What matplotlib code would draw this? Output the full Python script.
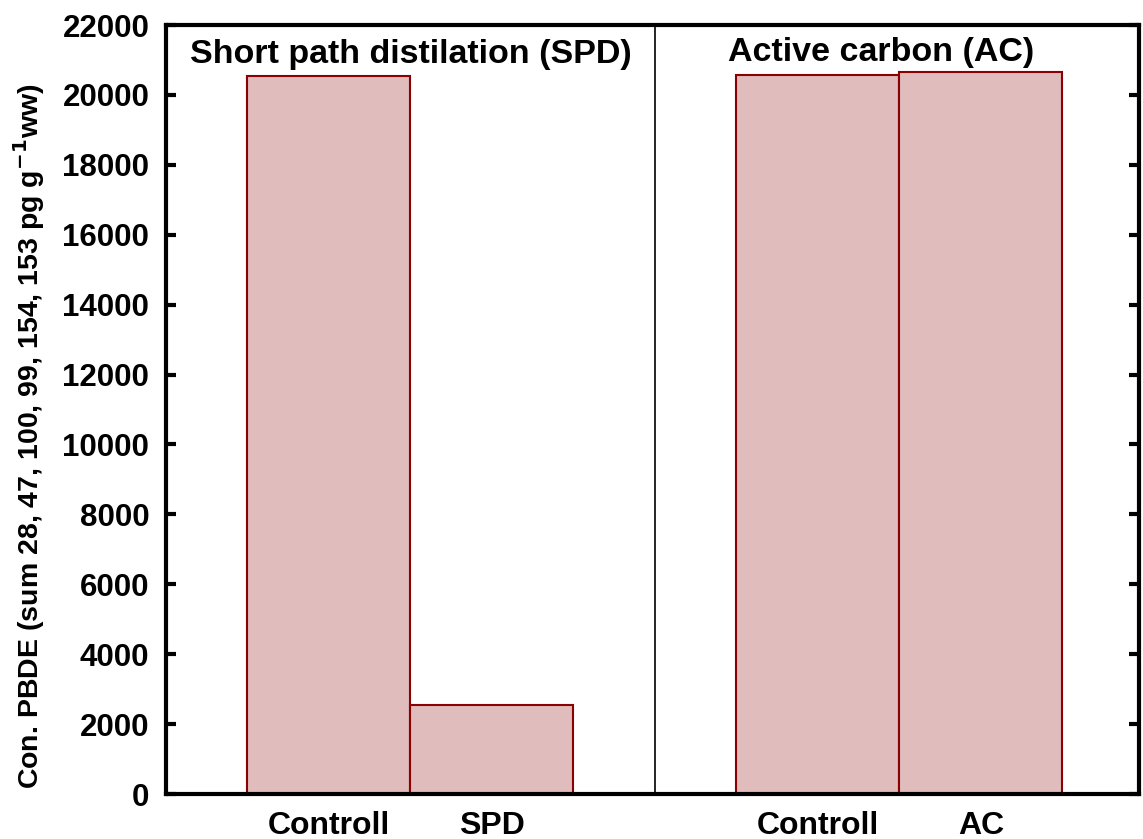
import matplotlib
matplotlib.use("Agg")
import matplotlib.pyplot as plt

plt.rcParams['font.family'] = ['Liberation Sans', 'DejaVu Sans']
plt.rcParams['font.weight'] = 'bold'
plt.rcParams['mathtext.default'] = 'bf'

# data
categories = ['Controll', 'SPD', 'Controll', 'AC']
positions = [1, 2, 4, 5]
values = [20550, 2550, 20560, 20660]
group_titles = ['Short path distilation (SPD)', 'Active carbon (AC)']
yticks = list(range(0, 22001, 2000))

fig = plt.figure(figsize=(11.43, 8.39), dpi=100)
ax = fig.add_axes([166 / 1143, 1 - 794 / 839, 973 / 1143, 769 / 839])

ax.bar(positions, values, width=1.0, color='#e0bcbc', edgecolor='#8b0000',
       linewidth=1.5, zorder=2)

ax.axvline(3, color='black', linewidth=1.2, zorder=3)

ax.set_xlim(0, 5.97)
ax.set_ylim(0, 22000)
ax.set_yticks(yticks)
ax.set_xticks(positions)
ax.set_xticklabels(categories, fontsize=23, fontweight='bold')
ax.tick_params(axis='x', length=0, pad=12)
ax.tick_params(axis='y', direction='in', length=7, width=3, labelsize=22.5,
               left=True, right=True, pad=12)
for lbl in ax.get_yticklabels():
    lbl.set_fontweight('bold')

for s in ax.spines.values():
    s.set_linewidth(3)

ax.text(0.15, 21150, group_titles[0], fontsize=24.5, fontweight='bold', va='center', ha='left')
ax.text(3.45, 21200, group_titles[1], fontsize=24.5, fontweight='bold', va='center', ha='left')

ax.set_ylabel('Con. PBDE (sum 28, 47, 100, 99, 154, 153 pg g$^{-1}$ww)',
              fontsize=20.5, fontweight='bold')
ax.yaxis.set_label_coords(-0.122, 0.465)

fig.savefig('out.png', dpi=100)
